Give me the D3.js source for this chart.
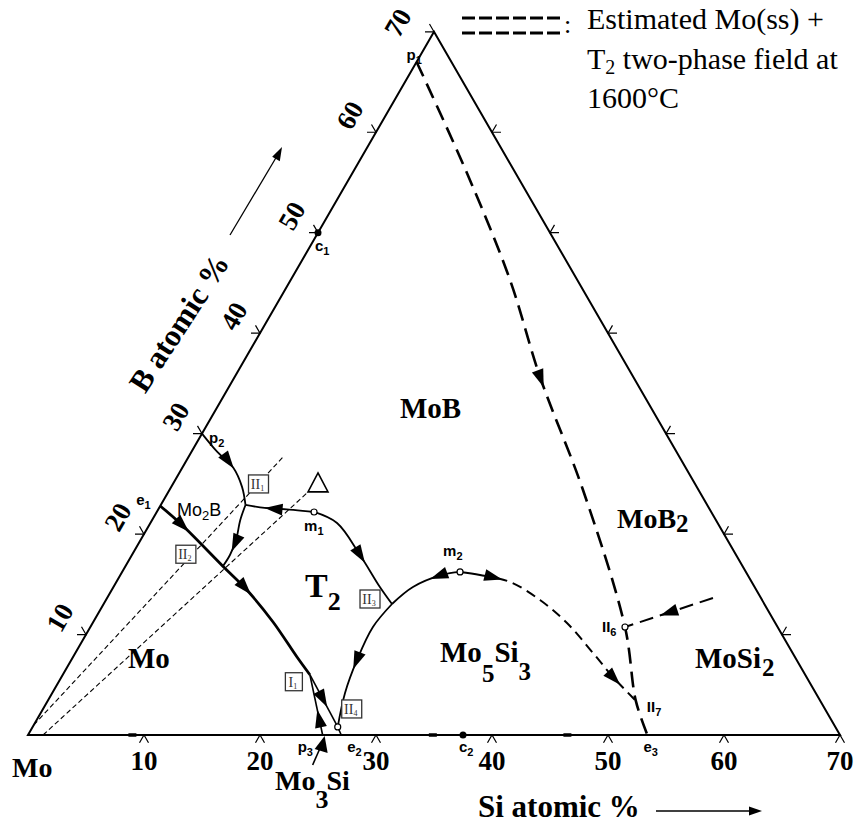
<!DOCTYPE html>
<html>
<head>
<meta charset="utf-8">
<script src="https://cdn.jsdelivr.net/npm/d3@7"></script>
<style>
  body { margin: 0; background: #fff; }
  svg { display: block; }
  .serif { font-family: "Liberation Serif", "Times New Roman", serif; }
  .sans { font-family: "Liberation Sans", Arial, sans-serif; }
</style>
</head>
<body>
<svg id="chart"></svg>
<script>
const width = 860, height = 825;

// axis ticks (atomic %)
const siTicks = [10, 20, 30, 40, 50, 60, 70];
const bTicks = [10, 20, 30, 40, 50, 60, 70];
const rightTicks = [10, 20, 30, 40, 50, 60];

// invariant / special points, [Si at.%, B at.%]
const p1 = [0, 67], c1 = [0, 50], p2 = [0, 30], e1 = [0, 22.8];
const II1 = [7.3, 22.9], II2 = [8.4, 16.8], m1 = [13.56, 22.2];
const II3 = [24.86, 13.04], m2 = [29.13, 16.23], I1 = [21.3, 6.0];
const II4 = [26.3, 0.8], p3 = [25.4, 0], e2 = [27.0, 0], c2 = [37.5, 0];
const II6 = [46.09, 10.75], II7 = [50.7, 3.4], e3 = [53.4, 0];
const baseMarks = [9, 34.9, 46.5];

// monovariant lines (liquidus valleys)
const p2ToII1 = [p2, [2.2, 28.2], [4.4, 26.6], [6.1, 24.7], II1];
const m1ToII1 = [m1, [10.5, 22.5], [9.1, 22.6], II1];
const II1ToII2 = [II1, [7.6, 21.4], [8.23, 19.41], [8.45, 17.92], II2];
const e1ToI1 = [e1, [2.83, 20.9], II2, [11.66, 14.43], [15.5, 11.25], [19.31, 7.76], I1];
const p3ToI1 = [p3, I1];
const I1ToII4 = [I1, II4];
const II4ToE2 = [II4, e2];
const m1ToII3 = [m1, [16.09, 21.1], [19.66, 17.92], [22.97, 14.73], II3];
const II3ToII4 = [II3, [24.36, 10.75], [24.63, 7.47], [25.24, 4.18], II4];
const m2ToII3 = [m2, [27.73, 15.93], [25.82, 14.73], II3];
const m2ToII7 = [m2, [31.0, 15.93], [33.94, 15.23], [37.42, 13.44], [40.89, 11.15], [44.63, 8.16], [47.55, 5.77], II7];
const p1ToE3 = [p1, [9.87, 55.94], [18.91, 45.29], [26.32, 35.64], [35.65, 24.39], II6, II7, e3];
const intoII6 = [[52.23, 13.64], II6];

// estimated Mo(ss) + T2 two-phase field boundaries
const mossT2a = [[0, 1], [8.15, 27.67]];
const mossT2b = [[1.3, 0], [12.05, 24.19]];
const deltaMark = [12.5, 25.0];

const svg = d3.select("#chart").attr("width", width).attr("height", height);

const xScale = d3.scaleLinear().domain([0, 70]).range([28, 840]);
const yScale = d3.scaleLinear().domain([0, 70]).range([735, 735 - 812 * Math.sqrt(3) / 2]);

function px(d) { return [xScale(d[0] + d[1] / 2), yScale(d[1])]; }

const curve = d3.line()
    .x(d => px(d)[0])
    .y(d => px(d)[1])
    .curve(d3.curveCatmullRom.alpha(0.5));
const straight = d3.line().x(d => px(d)[0]).y(d => px(d)[1]);

// triangle frame
svg.append("path")
    .attr("d", straight([[0, 0], [70, 0], [0, 70]]) + "Z")
    .attr("fill", "none").attr("stroke", "#000").attr("stroke-width", 2);

// tick chevrons
const arm = 9, c60 = 0.5 * arm, s60 = Math.sqrt(3) / 2 * arm;
function chevron(p, a, b) {
    return `M${p[0] + a[0]},${p[1] + a[1]}L${p[0]},${p[1]}L${p[0] + b[0]},${p[1] + b[1]}`;
}
const ticks = svg.append("g").attr("fill", "none").attr("stroke", "#000").attr("stroke-width", 1.2);
siTicks.forEach(s => ticks.append("path").attr("d", chevron(px([s, 0]), [-c60, s60], [c60, s60])));
bTicks.forEach(b => ticks.append("path").attr("d", chevron(px([0, b]), [-arm, 0], [-c60, -s60])));
rightTicks.forEach(b => ticks.append("path").attr("d", chevron(px([70 - b, b]), [arm, 0], [c60, -s60])));

// tick labels
svg.selectAll(".silab").data(siTicks).enter().append("text")
    .attr("class", "serif")
    .attr("x", d => px([d, 0])[0]).attr("y", 770)
    .attr("text-anchor", "middle").attr("font-size", 27).attr("font-weight", "bold")
    .text(d => d);
svg.selectAll(".blab").data(bTicks).enter().append("text")
    .attr("class", "serif")
    .attr("transform", d => {
        const p = px([0, d]);
        const off = d === 70 ? [-36, -9] : [-26, -17];
        return `translate(${p[0] + off[0]},${p[1] + off[1]}) rotate(-60)`;
    })
    .attr("text-anchor", "middle").attr("dominant-baseline", "central")
    .attr("font-size", 27).attr("font-weight", "bold")
    .text(d => d);

svg.append("text").attr("class", "serif").attr("x", 12).attr("y", 777)
    .attr("font-size", 28).attr("font-weight", "bold").text("Mo");

// axis titles
svg.append("text").attr("class", "serif").attr("x", 478).attr("y", 817)
    .attr("font-size", 31).attr("font-weight", "bold").text("Si atomic %");
svg.append("line").attr("x1", 656).attr("y1", 811).attr("x2", 752).attr("y2", 811)
    .attr("stroke", "#000").attr("stroke-width", 1.3);
svg.append("path").attr("d", "M762,811L749,806.5L749,815.5Z").attr("fill", "#000");

svg.append("text").attr("class", "serif")
    .attr("transform", "translate(179,323) rotate(-57)")
    .attr("text-anchor", "middle").attr("dominant-baseline", "central")
    .attr("font-size", 31).attr("font-weight", "bold").text("B atomic %");
svg.append("line").attr("x1", 230).attr("y1", 235).attr("x2", 277).attr("y2", 156)
    .attr("stroke", "#000").attr("stroke-width", 1.3);
svg.append("path").attr("d", "M282,147L279.8,161.3L272.2,156.8Z").attr("fill", "#000");

// thin dashed two-phase boundaries
[mossT2a, mossT2b].forEach(d => svg.append("path")
    .attr("d", straight(d)).attr("fill", "none")
    .attr("stroke", "#000").attr("stroke-width", 1.1).attr("stroke-dasharray", "5,3"));
const dp = px(deltaMark);
svg.append("path")
    .attr("d", `M${dp[0]},${dp[1] - 11}L${dp[0] + 10},${dp[1] + 8}L${dp[0] - 10},${dp[1] + 8}Z`)
    .attr("fill", "#fff").attr("stroke", "#000").attr("stroke-width", 1.6);

// valleys
const paths = {};
function valley(name, data, w, dash) {
    const p = svg.append("path").attr("d", curve(data))
        .attr("fill", "none").attr("stroke", "#000").attr("stroke-width", w);
    if (dash) p.attr("stroke-dasharray", dash);
    paths[name] = p.node();
}
valley("p2II1", p2ToII1, 1.8);
valley("m1II1", m1ToII1, 1.8);
valley("II1II2", II1ToII2, 1.8);
valley("e1I1", e1ToI1, 2.8);
valley("p3I1", p3ToI1, 1.6);
valley("I1II4", I1ToII4, 1.6);
valley("II4e2", II4ToE2, 1.6);
valley("m1II3", m1ToII3, 1.8);
valley("II3II4", II3ToII4, 1.8);
valley("m2II3", m2ToII3, 1.8);
valley("p1e3", p1ToE3, 2.6, "16,8");
valley("intoII6", intoII6, 2, "14,7");
valley("m2II7", m2ToII7, 2);
{
    // solid near m2, dashed towards II7
    const L = paths.m2II7.getTotalLength();
    const dash = [48];
    while (d3.sum(dash) < L + 20) dash.push(6, 10);
    d3.select(paths.m2II7).attr("stroke-dasharray", dash.join(","));
}

// flow arrows
const arrows = [
    ["p2II1", 0.55], ["m1II1", 0.72], ["II1II2", 0.74], ["e1I1", 0.17], ["e1I1", 0.56],
    ["m1II3", 0.6], ["II3II4", 0.56], ["m2II3", 0.4], ["m2II7", 0.19], ["m2II7", 0.9],
    ["p1e3", 0.49], ["intoII6", 0.6], ["p3I1", 0.42], ["I1II4", 0.62]
];
arrows.forEach(([name, f]) => {
    const node = paths[name], L = node.getTotalLength();
    const tip = node.getPointAtLength(f * L), back = node.getPointAtLength(Math.max(0, f * L - 3));
    const a = Math.atan2(tip.y - back.y, tip.x - back.x);
    const len = 18, hw = 6;
    const bx = tip.x - len * Math.cos(a), by = tip.y - len * Math.sin(a);
    svg.append("path")
        .attr("d", `M${tip.x},${tip.y}L${bx + hw * Math.sin(a)},${by - hw * Math.cos(a)}L${bx - hw * Math.sin(a)},${by + hw * Math.cos(a)}Z`)
        .attr("fill", "#000");
});

// points
[c1, c2].forEach(d => svg.append("circle").attr("cx", px(d)[0]).attr("cy", px(d)[1]).attr("r", 3.5).attr("fill", "#000"));
[m1, m2, II4, II6].forEach(d => svg.append("circle").attr("cx", px(d)[0]).attr("cy", px(d)[1]).attr("r", 3)
    .attr("fill", "#fff").attr("stroke", "#000").attr("stroke-width", 1.2));
baseMarks.forEach(s => svg.append("line")
    .attr("x1", xScale(s) - 4).attr("x2", xScale(s) + 4).attr("y1", yScale(0)).attr("y2", yScale(0))
    .attr("stroke", "#000").attr("stroke-width", 3.5));

// Mo3Si pointer
{
    const t = px(p3);
    svg.append("line").attr("x1", t[0] - 10).attr("y1", t[1] + 30).attr("x2", t[0] - 3).attr("y2", t[1] + 14)
        .attr("stroke", "#000").attr("stroke-width", 1.6);
    svg.append("path").attr("d", `M${t[0] + 2},${t[1] + 1}L${t[0] + 5},${t[1] + 18}L${t[0] - 8},${t[1] + 14}Z`).attr("fill", "#000");
}

// point labels
const pointLabels = [
    ["p", "1", p1, -10, -2], ["c", "1", c1, -3, 18], ["p", "2", p2, 7, 9], ["e", "1", e1, -24, -1],
    ["m", "1", m1, -10, 19], ["m", "2", m2, -17, -16], ["c", "2", c2, -4, 17], ["p", "3", p3, -25, 17],
    ["e", "2", e2, 6, 17], ["e", "3", e3, -4, 17], ["II", "6", II6, -23, 5], ["II", "7", II7, 11, 11]
];
pointLabels.forEach(([t, s, d, dx, dy]) => {
    const p = px(d);
    const txt = svg.append("text").attr("class", "sans").attr("x", p[0] + dx).attr("y", p[1] + dy)
        .attr("font-size", 15).attr("font-weight", "bold");
    txt.append("tspan").text(t);
    txt.append("tspan").attr("font-size", 11).attr("dy", 4).text(s);
});

// boxed invariant labels
const boxLabels = [["II", "1", II1, 13, -21], ["II", "2", II2, -37, -12], ["II", "3", II3, -22, -5],
    ["I", "1", I1, -16, 7], ["II", "4", II4, 14, -18]];
boxLabels.forEach(([t, s, d, dx, dy]) => {
    const p = px(d), cx = p[0] + dx, cy = p[1] + dy;
    const w = t === "I" ? 17 : 20;
    svg.append("rect").attr("x", cx - w / 2).attr("y", cy - 9).attr("width", w).attr("height", 18)
        .attr("fill", "#fff").attr("stroke", "#333").attr("stroke-width", 1.3);
    const txt = svg.append("text").attr("class", "serif").attr("x", cx - 1).attr("y", cy + 5)
        .attr("text-anchor", "middle").attr("font-size", 14).attr("fill", "#333");
    txt.append("tspan").text(t);
    txt.append("tspan").attr("font-size", 8).attr("dy", 2).text(s);
});

// phase field labels
function phase(x, y, parts, size) {
    const t = svg.append("text").attr("class", "serif").attr("x", x).attr("y", y)
        .attr("font-size", size).attr("font-weight", "bold");
    parts.forEach(([s, dy, fs, dx]) => {
        const ts = t.append("tspan").text(s).attr("dy", dy);
        if (fs) ts.attr("font-size", fs);
        if (dx) ts.attr("dx", dx);
    });
}
phase(400, 418, [["MoB", 0]], 29);
phase(617, 528, [["MoB", 0], ["2", 4, 25]], 28);
phase(128, 668, [["Mo", 0]], 29);
phase(305, 597, [["T", 0], ["2", 13, 26]], 34);
phase(440, 662, [["Mo", 0], ["5", 20, 25], ["Si", -20], ["3", 18, 25]], 29);
phase(695, 668, [["MoSi", 0], ["2", 8, 25, 1]], 29);
phase(275, 790, [["Mo", 0], ["3", 18, 26], ["Si", -18, null, -2]], 28);

{
    const t = svg.append("text").attr("class", "sans").attr("x", 177).attr("y", 516).attr("font-size", 18);
    t.append("tspan").text("Mo");
    t.append("tspan").attr("font-size", 13).attr("dy", 4).text("2");
    t.append("tspan").attr("dy", -4).text("B");
}

// legend
[18, 33].forEach(y => {
    for (let i = 0; i < 6; i++) {
        svg.append("line").attr("x1", 462 + i * 17).attr("x2", 475 + i * 17).attr("y1", y).attr("y2", y)
            .attr("stroke", "#000").attr("stroke-width", 3);
    }
});
svg.append("text").attr("class", "serif").attr("x", 564).attr("y", 33).attr("font-size", 26).text(":");
const leg = svg.append("g").attr("class", "serif").attr("font-size", 30);
leg.append("text").attr("x", 587).attr("y", 29).text("Estimated Mo(ss) +");
{
    const t = leg.append("text").attr("x", 587).attr("y", 69);
    t.append("tspan").text("T");
    t.append("tspan").attr("font-size", 20).attr("dy", 5).text("2");
    t.append("tspan").attr("dy", -5).text(" two-phase field at");
}
leg.append("text").attr("x", 587).attr("y", 108).text("1600°C");
</script>
</body>
</html>
